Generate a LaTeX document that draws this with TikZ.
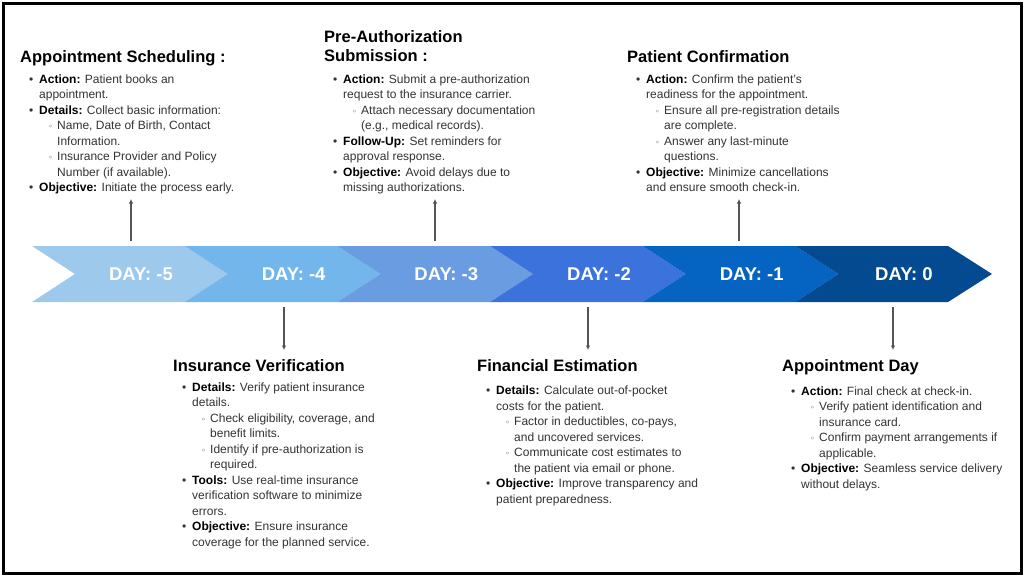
\documentclass[tikz,border=0pt]{standalone}
\usepackage{fontspec}
\setmainfont{Liberation Sans}
\newfontfamily\symfnt{DejaVu Sans}
\usetikzlibrary{arrows.meta}
\definecolor{cA}{HTML}{9DC9ED}
\definecolor{cB}{HTML}{72B6EC}
\definecolor{cC}{HTML}{6A9CE2}
\definecolor{cD}{HTML}{3B72DB}
\definecolor{cE}{HTML}{0563C1}
\definecolor{cF}{HTML}{034A90}
\definecolor{bodygray}{HTML}{333333}
\definecolor{conngray}{HTML}{555555}
\newcommand{\bu}{\makebox[10pt][l]{•}}
\newcommand{\sbu}{\hspace*{19pt}\makebox[9pt][l]{{\symfnt\fontsize{8}{8}\selectfont ◦}}}
\newcommand{\ind}{\hspace*{10pt}}
\newcommand{\sind}{\hspace*{28pt}}
\newcommand{\lb}[1]{\textbf{\color{black}#1}}
\tikzset{
  head/.style={anchor=base west, inner sep=0pt, align=left, text=black,
    font=\bfseries\fontsize{16.5}{19}\selectfont},
  body/.style={anchor=base west, inner sep=0pt, align=left, text=bodygray,
    font=\fontsize{12}{15.5}\selectfont},
  daylab/.style={inner sep=0pt, text=white, font=\bfseries\fontsize{18.5}{20}\selectfont},
  conn/.style={draw=conngray, line width=1.3pt, -{Latex[length=4.5pt,width=4.5pt]}},
}
\begin{document}
\begin{tikzpicture}[x=1pt,y=-1pt]
\useasboundingbox (0,0) rectangle (1024,576);
\fill[white] (0,0) rectangle (1024,576);
\draw[line width=3pt, black] (3,3) rectangle (1021,573);

% chevron band
\foreach \i/\c/\lab in {0/cA/-5,1/cB/-4,2/cC/-3,3/cD/-2,4/cE/-1}{
  \pgfmathsetmacro{\s}{32+152.67*\i}
  \pgfmathsetmacro{\e}{\s+152.67}
  \fill[\c] (\s,246) -- (\e,246) -- (\e+43,274) -- (\e,302) -- (\s,302) -- (\s+43,274) -- cycle;
  \node[daylab] (day\i) at (\s+109,274) {DAY: \lab};
}
\fill[cF] (795.3,246) -- (948,246) -- (992,274) -- (948,302) -- (795.3,302) -- (838.3,274) -- cycle;
\node[daylab] (day5) at (904,274) {DAY: 0};

% connectors
\coordinate (u1a) at (131,241); \coordinate (u1b) at (131,199);
\coordinate (u2a) at (435,241); \coordinate (u2b) at (435,199);
\coordinate (u3a) at (739,241); \coordinate (u3b) at (739,199);
\coordinate (d1a) at (284,307); \coordinate (d1b) at (284,350);
\coordinate (d2a) at (588,307); \coordinate (d2b) at (588,350);
\coordinate (d3a) at (893,307); \coordinate (d3b) at (893,350);
\draw[conn] (u1a) -- (u1b);
\draw[conn] (u2a) -- (u2b);
\draw[conn] (u3a) -- (u3b);
\draw[conn] (d1a) -- (d1b);
\draw[conn] (d2a) -- (d2b);
\draw[conn] (d3a) -- (d3b);

% top blocks (anchor = baseline of last line)
\node[head] (h1) at (20,62) {Appointment Scheduling :};
\node[body] (b1) at (29,191.5) {\bu\lb{Action:} Patient books an\\
\ind appointment.\\
\bu\lb{Details:} Collect basic information:\\
\sbu Name, Date of Birth, Contact\\
\sind Information.\\
\sbu Insurance Provider and Policy\\
\sind Number (if available).\\
\bu\lb{Objective:} Initiate the process early.};

\node[head] (h2) at (324,61.7) {Pre-Authorization\\Submission :};
\node[body] (b2) at (333,191.5) {\bu\lb{Action:} Submit a pre-authorization\\
\ind request to the insurance carrier.\\
\sbu Attach necessary documentation\\
\sind (e.g., medical records).\\
\bu\lb{Follow-Up:} Set reminders for\\
\ind approval response.\\
\bu\lb{Objective:} Avoid delays due to\\
\ind missing authorizations.};

\node[head] (h3) at (627,62.7) {Patient Confirmation};
\node[body] (b3) at (636,191.5) {\bu\lb{Action:} Confirm the patient’s\\
\ind readiness for the appointment.\\
\sbu Ensure all pre-registration details\\
\sind are complete.\\
\sbu Answer any last-minute\\
\sind questions.\\
\bu\lb{Objective:} Minimize cancellations\\
\ind and ensure smooth check-in.};

% bottom blocks
\node[head] (h4) at (173,371) {Insurance Verification};
\node[body] (b4) at (182,546) {\bu\lb{Details:} Verify patient insurance\\
\ind details.\\
\sbu Check eligibility, coverage, and\\
\sind benefit limits.\\
\sbu Identify if pre-authorization is\\
\sind required.\\
\bu\lb{Tools:} Use real-time insurance\\
\ind verification software to minimize\\
\ind errors.\\
\bu\lb{Objective:} Ensure insurance\\
\ind coverage for the planned service.};

\node[head] (h5) at (477,371) {Financial Estimation};
\node[body] (b5) at (486,503) {\bu\lb{Details:} Calculate out-of-pocket\\
\ind costs for the patient.\\
\sbu Factor in deductibles, co-pays,\\
\sind and uncovered services.\\
\sbu Communicate cost estimates to\\
\sind the patient via email or phone.\\
\bu\lb{Objective:} Improve transparency and\\
\ind patient preparedness.};

\node[head] (h6) at (782,371) {Appointment Day};
\node[body] (b6) at (791,488) {\bu\lb{Action:} Final check at check-in.\\
\sbu Verify patient identification and\\
\sind insurance card.\\
\sbu Confirm payment arrangements if\\
\sind applicable.\\
\bu\lb{Objective:} Seamless service delivery\\
\ind without delays.};
\end{tikzpicture}
\end{document}
